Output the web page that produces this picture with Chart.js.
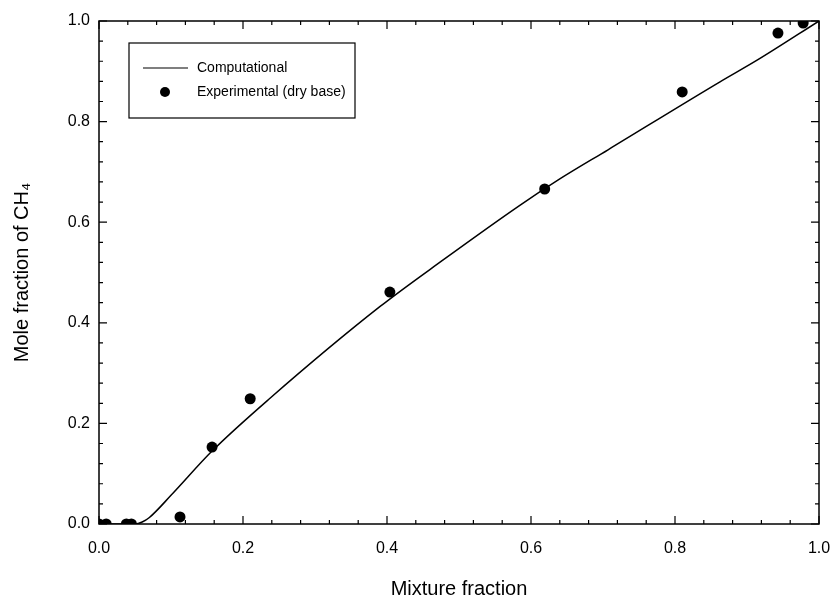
<!DOCTYPE html>
<html>
<head>
<meta charset="utf-8">
<script src="https://cdn.jsdelivr.net/npm/chart.js@4.4.1/dist/chart.umd.min.js"></script>
<style>
  html, body { margin: 0; padding: 0; background: #fff; }
  #grafico { display: block; }
</style>
</head>
<body>
<canvas id="grafico" width="835" height="601"></canvas>
<script>
// Curva computacional
const fracaoComp = [0, 0.05, 0.06, 0.07, 0.1, 0.157, 0.2375, 0.39, 0.478, 0.585, 0.64, 0.707, 0.8625, 0.914, 1.0];
const ch4Comp    = [0, 0, 0.004, 0.013, 0.057, 0.145, 0.25, 0.432, 0.525, 0.634, 0.686, 0.744, 0.879, 0.922, 1.0];

// Pontos experimentais (base seca)
const fracaoExp = [0, 0.01, 0.038, 0.045, 0.1125, 0.157, 0.21, 0.404, 0.619, 0.81, 0.943, 0.978];
const ch4Exp    = [0, 0, 0, 0, 0.014, 0.153, 0.249, 0.461, 0.666, 0.859, 0.976, 0.996];

const ticksEixo = [0, 0.2, 0.4, 0.6, 0.8, 1.0];
const rotulos = ["Computational", "Experimental (dry base)"];

const fonte = "'Liberation Sans', Arial, sans-serif";

// Moldura + ticks internos nos quatro lados
const molduraPlugin = {
    id: "moldura",
    afterDraw(chart) {
        const { ctx, chartArea: a, scales } = chart;
        ctx.save();
        ctx.strokeStyle = "#000";
        ctx.lineWidth = 1.5;
        ctx.strokeRect(a.left, a.top, a.right - a.left, a.bottom - a.top);
        ctx.lineWidth = 1.2;
        for (let i = 0; i <= 25; i++) {
            const v = i * 0.04;
            const len = (i % 5 === 0) ? 8 : 4;
            const px = scales.x.getPixelForValue(v);
            const py = scales.y.getPixelForValue(v);
            ctx.beginPath();
            ctx.moveTo(px, a.bottom); ctx.lineTo(px, a.bottom - len);
            ctx.moveTo(px, a.top); ctx.lineTo(px, a.top + len);
            ctx.moveTo(a.left, py); ctx.lineTo(a.left + len, py);
            ctx.moveTo(a.right, py); ctx.lineTo(a.right - len, py);
            ctx.stroke();
        }
        ctx.restore();
    }
};

// Legenda dentro da área do gráfico
const legendaPlugin = {
    id: "legendaInterna",
    afterDraw(chart) {
        const { ctx } = chart;
        const x0 = 129, y0 = 43, w = 226, h = 75;
        ctx.save();
        ctx.fillStyle = "#fff";
        ctx.fillRect(x0, y0, w, h);
        ctx.strokeStyle = "#000";
        ctx.lineWidth = 1.2;
        ctx.strokeRect(x0, y0, w, h);
        ctx.beginPath();
        ctx.moveTo(143, 68); ctx.lineTo(188, 68);
        ctx.stroke();
        ctx.fillStyle = "#000";
        ctx.beginPath();
        ctx.arc(165, 92, 5, 0, Math.PI * 2);
        ctx.fill();
        ctx.font = "14px " + fonte;
        ctx.textBaseline = "middle";
        ctx.fillText(rotulos[0], 197, 68);
        ctx.fillText(rotulos[1], 197, 92);
        ctx.restore();
    }
};

const ctx = document.getElementById("grafico").getContext("2d");
new Chart(ctx, {
    type: "scatter",
    data: {
        datasets: [
            {
                label: rotulos[0],
                data: fracaoComp.map((x, i) => ({ x, y: ch4Comp[i] })),
                showLine: true,
                borderColor: "#000",
                borderWidth: 1.5,
                pointRadius: 0,
                cubicInterpolationMode: "monotone",
            },
            {
                label: rotulos[1],
                data: fracaoExp.map((x, i) => ({ x, y: ch4Exp[i] })),
                pointRadius: 5.5,
                pointBackgroundColor: "#000",
                pointBorderColor: "#000",
                pointBorderWidth: 0,
            },
        ],
    },
    plugins: [molduraPlugin, legendaPlugin],
    options: {
        responsive: false,
        animation: false,
        devicePixelRatio: 1,
        layout: { padding: { left: 0, top: 21, right: 16, bottom: 0 } },
        plugins: {
            legend: { display: false },
            tooltip: { enabled: false },
        },
        scales: {
            x: {
                type: "linear",
                min: 0,
                max: 1,
                afterBuildTicks: (s) => { s.ticks = ticksEixo.map(v => ({ value: v })); },
                afterFit: (s) => { s.height = 77; s.paddingLeft = 0; s.paddingRight = 0; },
                grid: { display: false, drawTicks: false },
                border: { display: false },
                ticks: {
                    color: "#000",
                    padding: 15,
                    font: { family: fonte, size: 16 },
                    callback: (v) => v.toFixed(1),
                },
                title: {
                    display: true,
                    text: "Mixture fraction",
                    color: "#000",
                    font: { family: fonte, size: 20 },
                    padding: { top: 0, bottom: 0 },
                },
            },
            y: {
                type: "linear",
                min: 0,
                max: 1,
                afterBuildTicks: (s) => { s.ticks = ticksEixo.map(v => ({ value: v })); },
                afterFit: (s) => { s.width = 99; s.paddingTop = 0; s.paddingBottom = 0; },
                grid: { display: false, drawTicks: false },
                border: { display: false },
                ticks: {
                    color: "#000",
                    padding: 9,
                    font: { family: fonte, size: 16 },
                    callback: (v) => v.toFixed(1),
                },
                title: {
                    display: true,
                    text: "Mole fraction of CH\u2084",
                    color: "#000",
                    font: { family: fonte, size: 20 },
                    padding: { top: 10, bottom: 0 },
                },
            },
        },
    },
});
</script>
</body>
</html>
